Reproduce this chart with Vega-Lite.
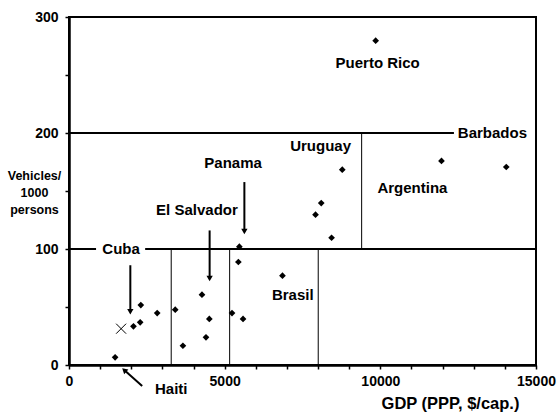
{
  "$schema": "https://vega.github.io/schema/vega-lite/v6.json",
  "width": 467,
  "height": 348,
  "autosize": "none",
  "padding": {"left": 69, "top": 17, "right": 21, "bottom": 51},
  "background": "white",
  "config": {
    "font": "Liberation Sans",
    "view": {"stroke": "black", "strokeWidth": 2},
    "axis": {
      "grid": false,
      "domainColor": "black",
      "domainWidth": 2.5,
      "tickColor": "black",
      "tickWidth": 1.5,
      "tickSize": 4,
      "labelColor": "black",
      "labelFont": "Liberation Sans",
      "labelFontWeight": "bold",
      "labelFontSize": 14,
      "labelOverlap": false,
      "labelFlush": false,
      "titleColor": "black",
      "titleFont": "Liberation Sans",
      "titleFontWeight": "bold"
    }
  },
  "datasets": {
    "points": [
      {"x": 1481, "y": 6.6}, {"x": 2070, "y": 33.3}, {"x": 2286, "y": 36.8},
      {"x": 2307, "y": 51.7}, {"x": 2833, "y": 44.8}, {"x": 3412, "y": 47.7},
      {"x": 3659, "y": 16.6}, {"x": 4271, "y": 60.6}, {"x": 4507, "y": 39.7},
      {"x": 4400, "y": 23.9}, {"x": 5236, "y": 44.8}, {"x": 5590, "y": 39.7},
      {"x": 5440, "y": 88.8}, {"x": 5472, "y": 102}, {"x": 6856, "y": 77},
      {"x": 8434, "y": 109.7}, {"x": 8777, "y": 168.4}, {"x": 8102, "y": 139.6},
      {"x": 7918, "y": 129.6}, {"x": 11964, "y": 175.9}, {"x": 14045, "y": 170.7},
      {"x": 9850, "y": 279.6}
    ],
    "cross": [{"x": 1674, "y": 31.3}],
    "hlines": [
      {"x": 0, "x2": 869, "y": 100},
      {"x": 2446, "x2": 15000, "y": 100},
      {"x": 0, "x2": 12364, "y": 200}
    ],
    "vlines": [
      {"x": 3283, "y": 0, "y2": 100},
      {"x": 5160, "y": 0, "y2": 100},
      {"x": 8005, "y": 0, "y2": 100},
      {"x": 9400, "y": 100, "y2": 200}
    ],
    "arrows": [
      {"x": 1970, "y": 86, "y2": 46},
      {"x": 4517, "y": 116, "y2": 74.5},
      {"x": 5633, "y": 157.7, "y2": 115}
    ],
    "heads": [
      {"x": 1970, "y": 46},
      {"x": 4517, "y": 74.5},
      {"x": 5633, "y": 115}
    ],
    "haitiArrow": [{"x": 2350, "y": -18, "x2": 1774, "y2": -4.3}],
    "haitiHead": [{"x": 1774, "y": -4.3}],
    "labels": [
      {"x": 9915, "y": 260, "text": "Puerto Rico"},
      {"x": 8080, "y": 189, "text": "Uruguay"},
      {"x": 11031, "y": 153, "text": "Argentina"},
      {"x": 5270, "y": 173.8, "text": "Panama"},
      {"x": 4110, "y": 133.6, "text": "El Salvador"},
      {"x": 7188, "y": 60.3, "text": "Brasil"},
      {"x": 1674, "y": 100, "text": "Cuba"},
      {"x": 3283, "y": -20.7, "text": "Haiti"}
    ],
    "leftLabels": [
      {"x": 12490, "y": 200, "text": "Barbados"}
    ]
  },
  "encoding": {
    "x": {
      "field": "x",
      "type": "quantitative",
      "scale": {"domain": [0, 15000], "nice": false, "zero": false},
      "axis": {
        "values": [0, 1000, 2000, 3000, 4000, 5000, 6000, 7000, 8000, 9000, 10000, 11000, 12000, 13000, 14000, 15000],
        "format": "d",
        "labelExpr": "datum.value % 5000 === 0 ? datum.label : ''",
        "labelPadding": 5,
        "title": "GDP (PPP, $/cap.)",
        "titleFontSize": 16.5,
        "titleX": 381,
        "titleY": 38,
        "titleAlign": "center",
        "titleBaseline": "middle"
      }
    },
    "y": {
      "field": "y",
      "type": "quantitative",
      "scale": {"domain": [0, 300], "nice": false, "zero": false},
      "axis": {
        "values": [0, 50, 100, 150, 200, 250, 300],
        "format": "d",
        "labelExpr": "datum.value % 100 === 0 ? datum.label : ''",
        "labelPadding": 7,
        "title": ["Vehicles/", "1000", "persons"],
        "titleAngle": 0,
        "titleFontSize": 12.5,
        "titleLineHeight": 17,
        "titleAlign": "center",
        "titleBaseline": "middle",
        "titleX": -35,
        "titleY": 158
      }
    }
  },
  "layer": [
    {
      "data": {"name": "hlines"},
      "mark": {"type": "rule", "color": "black", "strokeWidth": 2},
      "encoding": {"x2": {"field": "x2"}}
    },
    {
      "data": {"name": "vlines"},
      "mark": {"type": "rule", "color": "black", "strokeWidth": 1},
      "encoding": {"y2": {"field": "y2"}}
    },
    {
      "data": {"name": "arrows"},
      "mark": {"type": "rule", "color": "black", "strokeWidth": 2},
      "encoding": {"y2": {"field": "y2"}}
    },
    {
      "data": {"name": "heads"},
      "mark": {"type": "point", "shape": "triangle-down", "filled": true, "color": "black", "size": 40, "opacity": 1}
    },
    {
      "data": {"name": "haitiArrow"},
      "mark": {"type": "rule", "color": "black", "strokeWidth": 2},
      "encoding": {"x2": {"field": "x2"}, "y2": {"field": "y2"}}
    },
    {
      "data": {"name": "haitiHead"},
      "mark": {"type": "point", "shape": "triangle-up", "angle": -48, "filled": true, "color": "black", "size": 40, "opacity": 1}
    },
    {
      "data": {"name": "points"},
      "mark": {"type": "point", "shape": "diamond", "filled": true, "color": "black", "size": 45, "opacity": 1}
    },
    {
      "data": {"name": "cross"},
      "mark": {"type": "point", "shape": "M-1,-1L1,1M1,-1L-1,1", "filled": false, "color": "black", "strokeWidth": 1, "size": 100, "opacity": 1}
    },
    {
      "data": {"name": "labels"},
      "mark": {"type": "text", "font": "Liberation Sans", "fontWeight": "bold", "fontSize": 15, "color": "black", "align": "center", "baseline": "middle"},
      "encoding": {"text": {"field": "text"}}
    },
    {
      "data": {"name": "leftLabels"},
      "mark": {"type": "text", "font": "Liberation Sans", "fontWeight": "bold", "fontSize": 15, "color": "black", "align": "left", "baseline": "middle"},
      "encoding": {"text": {"field": "text"}}
    }
  ]
}
